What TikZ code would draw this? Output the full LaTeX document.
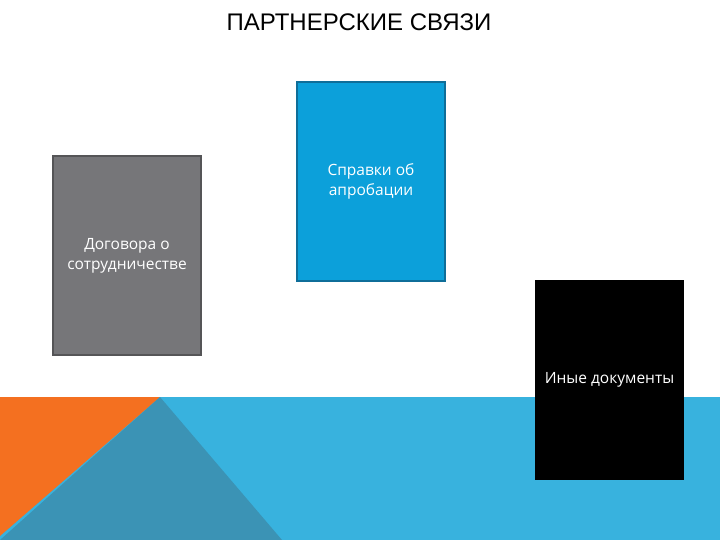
\documentclass[tikz,border=0pt]{standalone}
\usepackage{fontspec}
\setmainfont{Liberation Sans}
\newfontfamily\boxfont{Open Sans}
\usetikzlibrary{positioning}
\definecolor{bandblue}{HTML}{38B2DE}
\definecolor{bandteal}{HTML}{3B93B5}
\definecolor{bandorange}{HTML}{F47020}
\definecolor{docgray}{HTML}{767679}
\definecolor{docgrayline}{HTML}{555557}
\definecolor{docblue}{HTML}{0CA0DA}
\definecolor{docblueline}{HTML}{0F6E99}
\tikzset{
  docbox/.style={draw, line width=1.5pt, minimum width=148pt, minimum height=199pt,
    inner sep=0pt, align=center, text=white, font=\boxfont\fontsize{15.5}{20}\selectfont},
  heading/.style={font=\fontsize{24}{28}\selectfont, text=black}
}

\begin{document}
\begin{tikzpicture}[x=1pt, y=-1pt]
		%%%%% START %%%%%
		\useasboundingbox (0, 0) rectangle (720, 540);
		
		\fill[bandblue] (0, 397) rectangle (720, 540);
		\fill[bandorange] (0, 397) -- (160, 397) -- (0, 536) -- cycle;
		\fill[bandteal] (160, 397) -- (282, 540) -- (0, 540) -- cycle;
		
		\node[heading] (title) at (359, 22) {ПАРТНЕРСКИЕ СВЯЗИ};
		
		\node[docbox, fill=docgray, draw=docgrayline] (dogovor) at (127, 255.5) {Договора о\\сотрудничестве};
		\node[docbox, fill=docblue, draw=docblueline] (spravki) at (371, 181.5) {Справки об\\апробации};
		\node[docbox, fill=black, draw=black] (inye) at (609.5, 380) {Иные документы};
		%%%%% END %%%%%
	\end{tikzpicture}
\end{document}
